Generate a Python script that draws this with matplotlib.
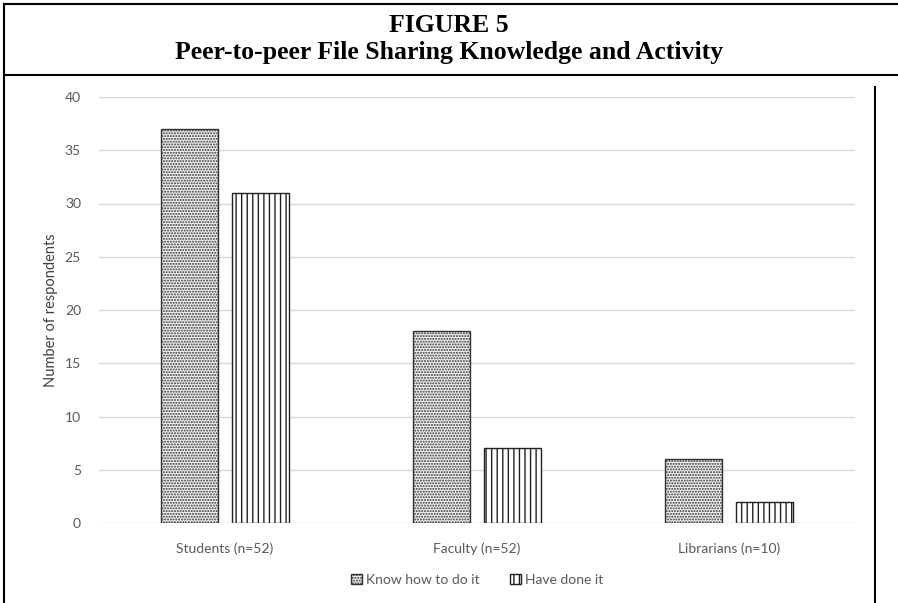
import matplotlib
matplotlib.use("Agg")
import matplotlib.pyplot as plt
import numpy as np
from matplotlib.lines import Line2D

categories = ["Students (n=52)", "Faculty (n=52)", "Librarians (n=10)"]
know_how = [37, 18, 6]
have_done = [31, 7, 2]
series_names = ["Know how to do it", "Have done it"]
yticks = [0, 5, 10, 15, 20, 25, 30, 35, 40]

W, H = 898, 603
fig = plt.figure(figsize=(W / 100, H / 100), dpi=100)
fig.patch.set_facecolor("white")

plt.rcParams["hatch.linewidth"] = 1.0

x0, x1 = 99, 855
y_top, y_bot = 97, 523
ax = fig.add_axes([x0 / W, 1 - y_bot / H, (x1 - x0) / W, (y_bot - y_top) / H])

x = np.arange(len(categories))
bw = 0.226
off = 0.141
tick_font = "Lato"
gray = "#595959"

ax.bar(x - off, know_how, width=bw, facecolor="#f4f4f4", edgecolor="#333333",
       hatch="......", linewidth=1.0, zorder=3, label=series_names[0])
ax.bar(x + off, have_done, width=bw, facecolor="white", edgecolor="#222222",
       hatch="|||", linewidth=1.0, zorder=3, label=series_names[1])

ax.set_xlim(-0.5, len(categories) - 0.5)
ax.set_ylim(0, 40)
ax.set_yticks(yticks)
ax.set_xticks(x)
ax.set_xticklabels(categories, fontfamily=tick_font, fontsize=10, color=gray)
ax.set_yticklabels([str(v) for v in yticks], fontfamily=tick_font, fontsize=10, color=gray)
ax.tick_params(axis="y", length=0, pad=13)
ax.tick_params(axis="x", length=0, pad=14)
ax.yaxis.grid(True, color="#d9d9d9", linewidth=1.0, zorder=0)
ax.set_axisbelow(True)
for s in ax.spines.values():
    s.set_visible(False)
ax.set_ylabel("Number of respondents", fontfamily=tick_font, fontsize=10.5,
              color="#404040", labelpad=5)

leg = ax.legend(loc="upper center", bbox_to_anchor=(0.5, -0.09), ncol=2,
                frameon=False, prop={"family": tick_font, "size": 10},
                handlelength=0.8, handleheight=0.8, handletextpad=0.3,
                columnspacing=2.2, labelcolor=gray)

def hline(y, xa, xb, lw=1.5):
    fig.add_artist(Line2D([xa / W, xb / W], [1 - y / H, 1 - y / H],
                          color="black", linewidth=lw, transform=fig.transFigure))

def vline(xp, ya, yb, lw=1.5):
    fig.add_artist(Line2D([xp / W, xp / W], [1 - ya / H, 1 - yb / H],
                          color="black", linewidth=lw, transform=fig.transFigure))

hline(4, 4, W)
hline(75, 4, W)
vline(4, 4, H)
vline(875, 87, H)

fig.text(0.5, 1 - 26 / H, "FIGURE 5", ha="center", va="center",
         fontfamily="Liberation Serif", fontweight="bold", fontsize=18.5)
fig.text(0.5, 1 - 53 / H, "Peer-to-peer File Sharing Knowledge and Activity",
         ha="center", va="center", fontfamily="Liberation Serif",
         fontweight="bold", fontsize=18.5)

fig.savefig("out.png", dpi=100, facecolor="white")
